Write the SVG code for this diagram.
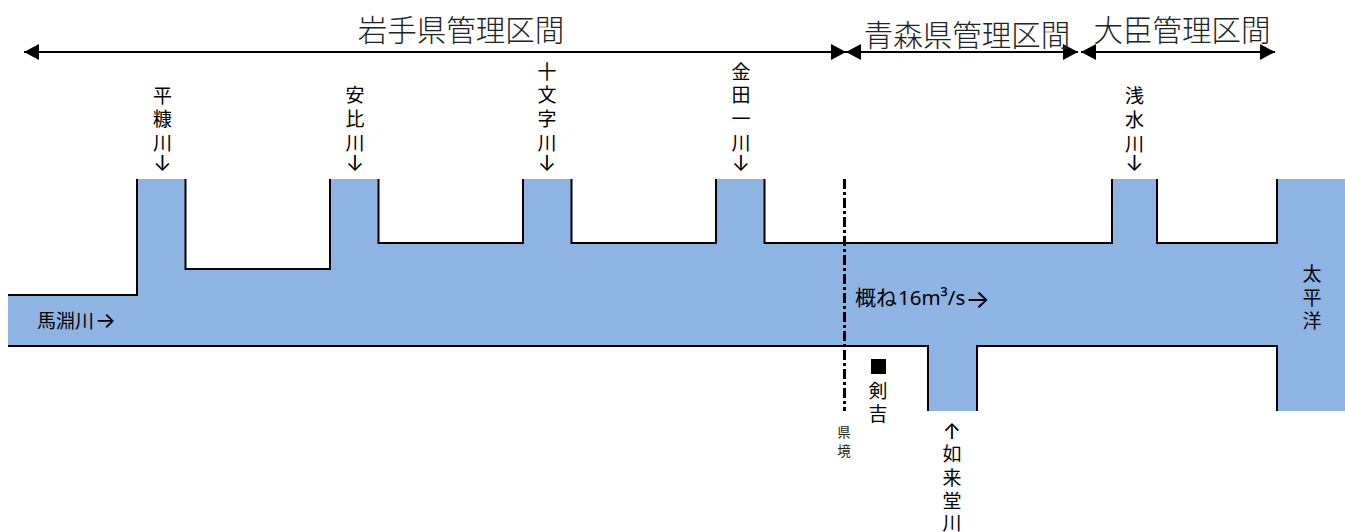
<svg xmlns="http://www.w3.org/2000/svg" width="1345" height="532" viewBox="0 0 1345 532">
<style>
text{font-family:"Noto Sans CJK JP","Noto Sans",sans-serif;fill:#000;text-anchor:middle}
.t{font-size:29.500px;font-weight:300;fill:#222}
.v{font-size:19px}
.r{font-family:"Inter",sans-serif;font-size:22px}
.s{font-size:13.500px;fill:#222}
.h{font-size:19px;text-anchor:start}
.w{fill:none;stroke:#000;stroke-width:2}
.a{fill:none;stroke:#000;stroke-width:2}
</style>
<defs>
<marker id="ah" viewBox="0 0 15 16" refX="15" refY="8" markerWidth="15" markerHeight="16" markerUnits="userSpaceOnUse" orient="auto-start-reverse"><path d="M0 0L15 8L0 16Z" fill="#000"/></marker>
</defs>
<g id="river">
<path d="M8 295H137V179H185.500V269H330V179H378.500V243H523V179H571.500V243H716V179H764.500V243H1112V179H1157V243H1277V179H1345V411H1277V346H977V411H928V346H8Z" fill="#8eb4e3"/>
<path class="w" d="M8 295H137V179M185.500 179V269H330V179M378.500 179V243H523V179M571.500 179V243H716V179M764.500 179V243H1112V179M1157 179V243H1277V179M1277 411V346H977V411M928 411V346H8"/>
</g>
<g id="connectors">
<line class="a" x1="24" y1="52" x2="846" y2="52" marker-start="url(#ah)" marker-end="url(#ah)"/>
<line class="a" x1="846" y1="52" x2="1078" y2="52" marker-start="url(#ah)" marker-end="url(#ah)"/>
<line class="a" x1="1081" y1="52" x2="1275" y2="52" marker-start="url(#ah)" marker-end="url(#ah)"/>
<path d="M844.500 179V411" fill="none" stroke="#000" stroke-width="3" stroke-dasharray="10 3 3 3"/>
</g>
<g id="section-iwate"><text class="t" x="461" y="41">岩手県管理区間</text></g>
<g id="section-aomori"><text class="t" x="967" y="46">青森県管理区間</text></g>
<g id="section-minister"><text class="t" x="1182" y="41">大臣管理区間</text></g>
<g id="hirasuka"><text class="v"><tspan x="162.500" y="103">平</tspan><tspan x="162.500" y="126">糠</tspan><tspan x="162.500" y="150">川</tspan><tspan class="r" x="162.500" y="171">↓</tspan></text></g>
<g id="abi"><text class="v"><tspan x="355" y="102">安</tspan><tspan x="355" y="126">比</tspan><tspan x="355" y="150">川</tspan><tspan class="r" x="355" y="171">↓</tspan></text></g>
<g id="jumonji"><text class="v"><tspan x="547" y="79">十</tspan><tspan x="547" y="102">文</tspan><tspan x="547" y="126">字</tspan><tspan x="547" y="150">川</tspan><tspan class="r" x="547" y="171">↓</tspan></text></g>
<g id="kindaichi"><text class="v"><tspan x="741" y="79">金</tspan><tspan x="741" y="102">田</tspan><tspan x="741" y="126">一</tspan><tspan x="741" y="150">川</tspan><tspan class="r" x="741" y="171">↓</tspan></text></g>
<g id="asamizu"><text class="v"><tspan x="1134.500" y="103">浅</tspan><tspan x="1134.500" y="127">水</tspan><tspan x="1134.500" y="151">川</tspan><tspan class="r" x="1134.500" y="171">↓</tspan></text></g>
<g id="mabechi"><text class="h" x="37" y="328">馬淵川<tspan class="r" dx="1">→</tspan></text></g>
<g id="flow"><text class="h" x="855" y="305" style="font-size:21px">概ね<tspan style="font-family:'Noto Sans',sans-serif;font-size:20.500px" dx="1">16m³/s</tspan><tspan class="r" style="font-size:26px" y="308" dx="0">→</tspan></text></g>
<g id="pacific"><text class="v"><tspan x="1312" y="281">太</tspan><tspan x="1312" y="305">平</tspan><tspan x="1312" y="328">洋</tspan></text></g>
<g id="kenyoshi"><rect x="871" y="359" width="15" height="15" fill="#000"/><text class="v"><tspan x="878" y="398">剣</tspan><tspan x="878" y="421">吉</tspan></text></g>
<g id="kenkyo"><text class="s"><tspan x="844" y="437">県</tspan><tspan x="844" y="456">境</tspan></text></g>
<g id="nyoraido"><text class="v"><tspan class="r" x="952" y="439">↑</tspan><tspan x="952" y="461">如</tspan><tspan x="952" y="485">来</tspan><tspan x="952" y="508">堂</tspan><tspan x="952" y="530">川</tspan></text></g>
</svg>
